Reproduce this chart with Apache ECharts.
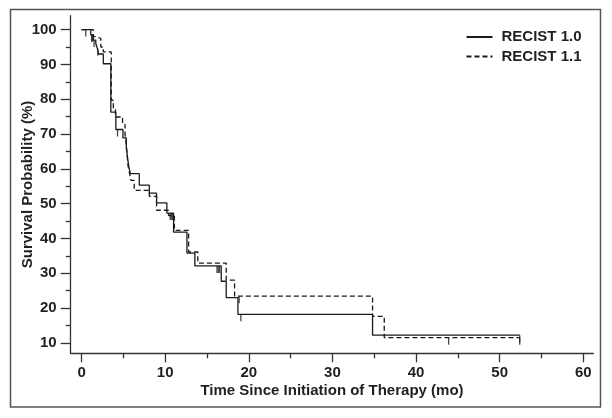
<!DOCTYPE html>
<html>
<head>
<meta charset="utf-8">
<script src="https://cdn.jsdelivr.net/npm/echarts@6/dist/echarts.min.js"></script>
<style>html,body{margin:0;padding:0;background:#fff}#c{width:612px;height:418px}</style>
</head>
<body>
<div id="c"></div>
<script>
// ---- data ----
const rec10Times = [0, 1.1, 1.4, 1.7, 1.9, 2.0, 2.6, 3.5, 4.1, 4.95, 5.35, 5.5, 5.65, 5.85, 6.9, 8.1, 8.97, 10.2, 11.0, 12.6, 13.55, 16.7, 17.3, 18.7, 34.8, 52.4];
const rec10Surv  = [100, 98.5, 97, 96, 94.5, 93, 90.2, 76.3, 71.3, 68.9, 66, 63.2, 60.5, 58.6, 55.3, 53.0, 50.2, 47.3, 41.8, 35.8, 32.1, 27.7, 23.0, 18.2, 12.2, 12.2];
const rec11Times = [0, 1.4, 1.7, 2.3, 2.6, 3.55, 3.8, 4.05, 4.9, 5.2, 5.35, 5.45, 5.55, 5.7, 5.9, 6.3, 8.1, 8.97, 10.4, 11.1, 12.8, 13.9, 17.3, 18.3, 34.8, 36.2, 52.4];
const rec11Surv  = [100, 98, 97.5, 95, 93.6, 79.7, 77.3, 74.9, 72.8, 70, 67, 64, 61, 59.1, 56.7, 53.8, 52.1, 48.1, 46.6, 42.3, 36.1, 32.9, 28.0, 23.4, 17.6, 11.5, 11.5];
const rec10Censor = [0.5, 1.2, 1.3, 1.5, 1.95, 4.3, 10.6, 10.75, 10.9, 16.2, 16.35, 16.5, 19.05, 52.4];
const rec11Censor = [18.85, 43.9, 52.4];
const seriesNames = ['RECIST 1.0', 'RECIST 1.1'];
const xMajor = [0, 10, 20, 30, 40, 50, 60];
const xMinor = [5, 15, 25, 35, 45, 55];
const yMajor = [10, 20, 30, 40, 50, 60, 70, 80, 90, 100];
const yMinor = [15, 25, 35, 45, 55, 65, 75, 85, 95];

// ---- helpers ----
function pairs(t, v) { return t.map((x, i) => [x, v[i]]); }
function survAt(t, v, x) {
  let s = v[0];
  for (let i = 0; i < t.length; i++) { if (t[i] <= x) s = v[i]; }
  return s;
}
const FONT = '"Liberation Sans", Arial, Helvetica, sans-serif';
const TXT = '#231f20';
const AX = '#333';

const chart = echarts.init(document.getElementById('c'), null, {renderer: 'canvas'});
const axisText = {fontSize: 15, fontWeight: 'bold', color: TXT, fontFamily: FONT};

chart.setOption({
  animation: false,
  backgroundColor: '#fff',
  grid: {left: 70.7, top: 15.7, right: 18.7, bottom: 64.7, containLabel: false},
  legend: {
    data: seriesNames,
    orient: 'vertical',
    left: 465.5, top: 29.5, padding: 0,
    itemWidth: 26, itemHeight: 14, itemGap: 4.5,
    itemStyle: {color: 'rgba(0,0,0,0)', borderWidth: 0, opacity: 0},
    textStyle: {fontSize: 15, fontWeight: 'bold', color: TXT, fontFamily: FONT, padding: [0, 0, 0, 4]}
  },
  xAxis: [{
    type: 'value', min: -1.3, max: 61.2,
    axisLine: {show: true, onZero: false, lineStyle: {color: AX, width: 1.3}},
    axisTick: {show: true, length: 9, customValues: xMajor, lineStyle: {color: AX, width: 1.3}},
    axisLabel: Object.assign({customValues: xMajor, margin: 12}, axisText),
    splitLine: {show: false},
    name: 'Time Since Initiation of Therapy (mo)', nameLocation: 'middle', nameGap: 30,
    nameMoveOverlap: false,
    nameTextStyle: axisText
  }, {
    type: 'value', min: -1.3, max: 61.2, position: 'bottom',
    axisLine: {show: false, onZero: false},
    axisTick: {show: true, length: 5, customValues: xMinor, lineStyle: {color: AX, width: 1.3}},
    axisLabel: {show: false},
    splitLine: {show: false}
  }],
  yAxis: [{
    type: 'value', min: 7, max: 104,
    axisLine: {show: true, onZero: false, lineStyle: {color: AX, width: 1.3}},
    axisTick: {show: true, length: 10, customValues: yMajor, lineStyle: {color: AX, width: 1.3}},
    axisLabel: Object.assign({customValues: yMajor, margin: 14}, axisText),
    splitLine: {show: false},
    name: 'Survival Probability (%)', nameLocation: 'middle', nameGap: 35,
    nameMoveOverlap: false,
    nameTextStyle: axisText
  }, {
    type: 'value', min: 7, max: 104, position: 'left',
    axisLine: {show: false, onZero: false},
    axisTick: {show: true, length: 5, customValues: yMinor, lineStyle: {color: AX, width: 1.3}},
    axisLabel: {show: false},
    splitLine: {show: false}
  }],
  graphic: [{
    type: 'rect', silent: true,
    shape: {x: 10.5, y: 9.5, width: 590, height: 397.5},
    style: {fill: 'none', stroke: '#555', lineWidth: 1.5}
  }],
  series: [{
    name: seriesNames[0], type: 'line', step: 'end', symbol: 'none',
    data: pairs(rec10Times, rec10Surv),
    lineStyle: {color: '#1a1a1a', width: 1.3, type: 'solid'},
    itemStyle: {color: '#1a1a1a'}
  }, {
    name: seriesNames[1], type: 'line', step: 'end', symbol: 'none',
    data: pairs(rec11Times, rec11Surv),
    lineStyle: {color: '#1a1a1a', width: 1.3, type: [5, 3]},
    itemStyle: {color: '#1a1a1a'}
  }, {
    type: 'scatter', symbol: 'rect', symbolSize: [1.3, 7], symbolOffset: [0, 3.5],
    itemStyle: {color: '#1a1a1a'},
    data: rec10Censor.map(x => [x, survAt(rec10Times, rec10Surv, x)])
  }, {
    type: 'scatter', symbol: 'rect', symbolSize: [1.3, 7], symbolOffset: [0, 3.5],
    itemStyle: {color: '#1a1a1a'},
    data: rec11Censor.map(x => [x, survAt(rec11Times, rec11Surv, x)])
  }]
});
</script>
</body>
</html>
